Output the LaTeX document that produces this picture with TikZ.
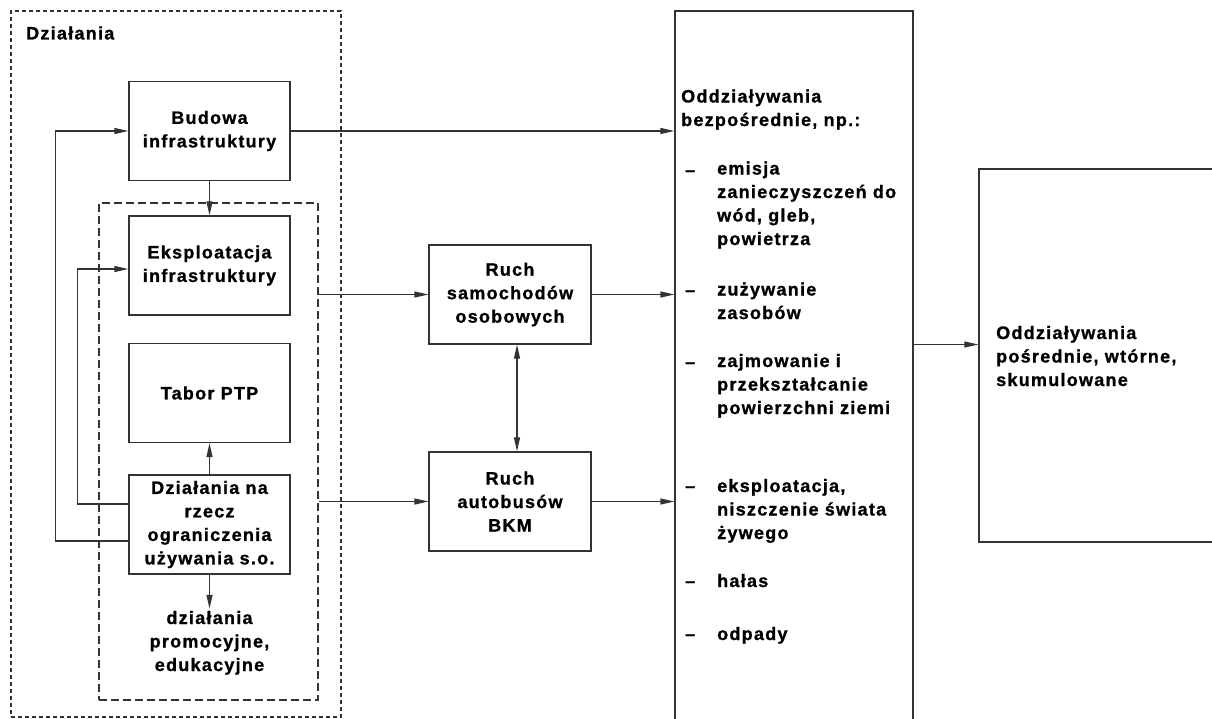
\documentclass[tikz,border=0pt]{standalone}
\usepackage{fontspec}
\setmainfont{Liberation Sans Bold}[LetterSpace=7, FakeBold=1]
\usetikzlibrary{arrows.meta,calc}
\begin{document}
\begin{tikzpicture}[x=1pt,y=-1pt,
  every node/.style={font=\fontsize{18}{23.5}\selectfont, text=black},
  ln/.style={draw=black!80, line width=1.3pt},
  box/.style={ln, inner sep=2pt, align=center, minimum width=161pt, minimum height=99pt},
  arr/.style={ln, -{Triangle[length=14pt,width=6pt]}},
  darr/.style={ln, {Triangle[length=14pt,width=6pt]}-{Triangle[length=14pt,width=6pt]}},
  outerdash/.style={draw=black!80, line width=1.2pt, dash pattern=on 4pt off 3pt, inner sep=0pt},
  innerdash/.style={draw=black!80, line width=1.2pt, dash pattern=on 8pt off 4pt, inner sep=0pt},
  lbl/.style={inner sep=0pt, align=left, anchor=base west}
]
\useasboundingbox (0,0) rectangle (1212,718);
% frames
\node[outerdash, minimum width=330pt, minimum height=706pt] (outer) at (176,364) {};
\node[innerdash, minimum width=219pt, minimum height=497pt] (inner) at (208.5,451.5) {};
\node[inner sep=0pt, anchor=west] (dzlabel) at (26,33) {Działania};
% boxes
\node[box] (bud) at (209.5,131) {Budowa\\infrastruktury};
\node[box] (eks) at (209.5,265.5) {Eksploatacja\\infrastruktury};
\node[box] (tab) at (209.5,393) {Tabor PTP};
\node[box] (dzn) at (209.5,524.5) {Działania na\\rzecz\\ograniczenia\\używania s.o.};
\node[inner sep=2pt, align=center, anchor=base] (promo) at (209.5,671) {działania\\promocyjne,\\edukacyjne};
\node[box, minimum width=162pt] (samo) at (510,294.5) {Ruch\\samochodów\\osobowych};
\node[box, minimum width=162pt] (auto) at (510,501.5) {Ruch\\autobusów\\BKM};
\node[ln, inner sep=0pt, minimum width=238pt, minimum height=712pt] (bez) at (794,367) {};
\node[ln, inner sep=0pt, minimum width=260pt, minimum height=373pt] (pos) at (1109,355.5) {};
% texts of the big boxes (anchor = baseline of last line)
\node[lbl] (beztitle) at (681,126) {Oddziaływania\\bezpośrednie, np.:};
\node[lbl] (d1) at (685,176) {–};
\node[lbl] (t1) at (717,245) {emisja\\zanieczyszczeń do\\wód, gleb,\\powietrza};
\node[lbl] (d2) at (685,296) {–};
\node[lbl] (t2) at (717,319) {zużywanie\\zasobów};
\node[lbl] (d3) at (685,368) {–};
\node[lbl] (t3) at (717,414) {zajmowanie i\\przekształcanie\\powierzchni ziemi};
\node[lbl] (d4) at (685,492) {–};
\node[lbl] (t4) at (717,539) {eksploatacja,\\niszczenie świata\\żywego};
\node[lbl] (d5) at (685,587) {–};
\node[lbl] (t5) at (717,587) {hałas};
\node[lbl] (d6) at (685,640) {–};
\node[lbl] (t6) at (717,640) {odpady};
\node[lbl] (postxt) at (996,386) {Oddziaływania\\pośrednie, wtórne,\\skumulowane};
% connectors
\draw[arr] (bud.east) -- (bud.east -| bez.west);
\draw[arr] (bud.south) -- (eks.north);
\draw[arr] (dzn.north) -- (tab.south);
\draw[arr] (dzn.south) -- (promo.north);
\draw[arr] ([yshift=-16.5pt]dzn.west) -- ++(-73,0) |- (bud.west);
\draw[arr] ([yshift=20.5pt]dzn.west) -- ++(-51,0) |- ([yshift=-3.5pt]eks.west);
\draw[arr] (samo.west -| inner.east) -- (samo.west);
\draw[arr] (auto.west -| inner.east) -- (auto.west);
\draw[arr] (samo.east) -- (samo.east -| bez.west);
\draw[arr] (auto.east) -- (auto.east -| bez.west);
\draw[darr] ([xshift=7pt]samo.south) -- ([xshift=7pt]auto.north);
\draw[arr] ([yshift=11pt]pos.west -| bez.east) -- ([yshift=11pt]pos.west);
\end{tikzpicture}
\end{document}
